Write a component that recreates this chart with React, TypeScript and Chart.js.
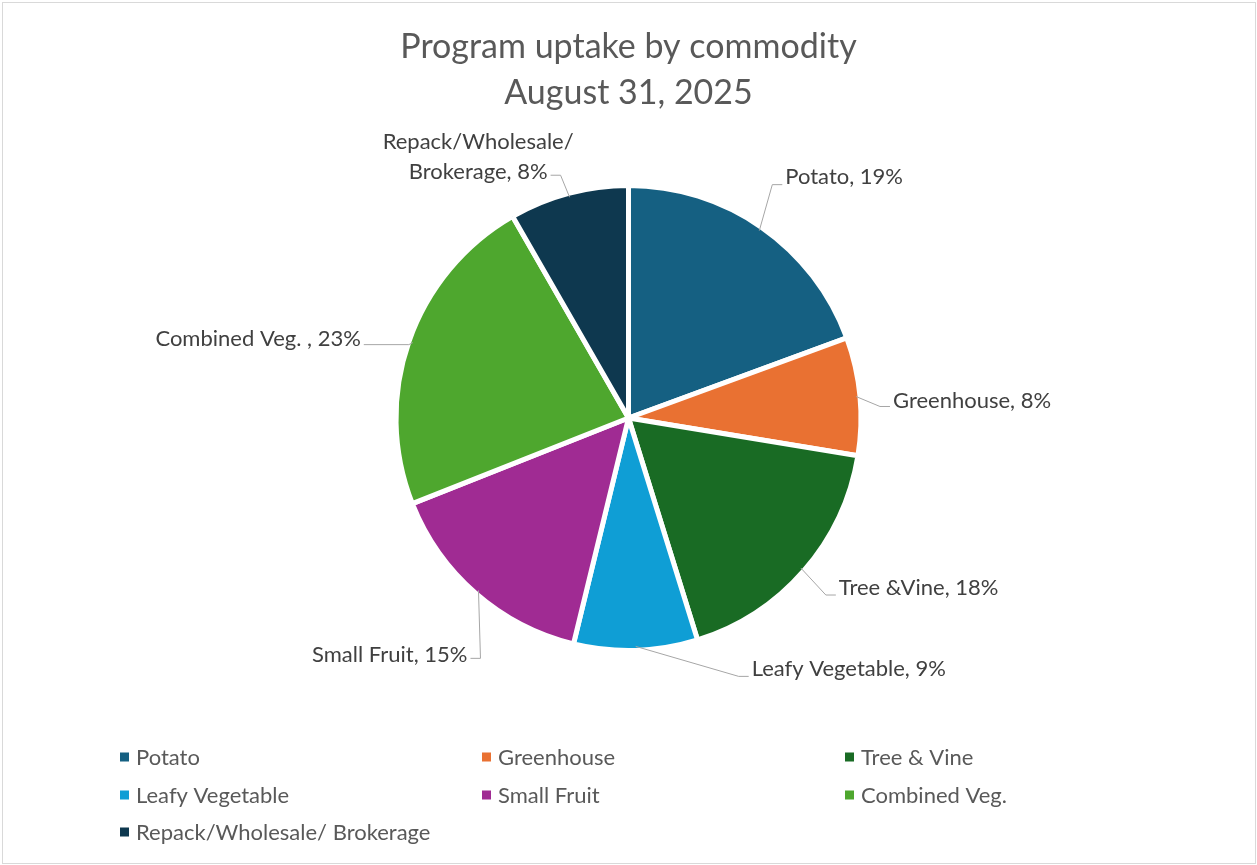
import React, { useEffect, useRef } from "react";
import { Chart, registerables } from "chart.js";

Chart.register(...registerables);

// ---- data ----
const categories = [
  "Potato",
  "Greenhouse",
  "Tree & Vine",
  "Leafy Vegetable",
  "Small Fruit",
  "Combined Veg.",
  "Repack/Wholesale/ Brokerage",
];
const sliceLabels = [
  ["Potato"],
  ["Greenhouse"],
  ["Tree &Vine"],
  ["Leafy Vegetable"],
  ["Small Fruit"],
  ["Combined Veg. "],
  ["Repack/Wholesale/", "Brokerage"],
];
const shares = [19.4, 8.2, 17.6, 8.6, 15.2, 22.7, 8.3];
const titleLines = ["Program uptake by commodity", "August 31, 2025"];

// ---- styles ----
const colors = ["#156082", "#E97132", "#196B24", "#0F9ED5", "#A02B93", "#4EA72E", "#0E384F"];
const FONT = "Lato, 'Open Sans', sans-serif";
// leader elbow offsets (px from slice edge), horizontal run, label side and vertical shift
const labelLayout = [
  { dx: 13, dy: -46, h: 10, side: "left", shift: -8 },
  { dx: 24, dy: 10, h: 10, side: "left", shift: -6 },
  { dx: 25, dy: 27, h: 10, side: "left", shift: -7 },
  { dx: 103, dy: 30, h: 10, side: "left", shift: -7 },
  { dx: 2, dy: 68, h: 10, side: "right", shift: -3 },
  { dx: -4, dy: 2, h: 45, side: "right", shift: -6 },
  { dx: -9, dy: -22, h: 10, side: "center", shift: -3 },
];
const legendCols = [120, 482, 845];
const legendRows = [757, 795, 832];

const labelPlugin = {
  id: "sliceLabels",
  afterDatasetsDraw(chart: any) {
    const ctx = chart.ctx;
    const meta = chart.getDatasetMeta(0);
    const data = chart.data.datasets[0].data as number[];
    const total = data.reduce((a, b) => a + b, 0);
    ctx.save();
    ctx.font = `22px ${FONT}`;
    ctx.textBaseline = "middle";
    meta.data.forEach((arc: any, i: number) => {
      const { x, y, startAngle, endAngle, outerRadius } = arc.getProps(
        ["x", "y", "startAngle", "endAngle", "outerRadius"],
        true
      );
      const mid = (startAngle + endAngle) / 2;
      const r = outerRadius - 4;
      const ex = x + Math.cos(mid) * r;
      const ey = y + Math.sin(mid) * r;
      const L = labelLayout[i];
      const bx = ex + L.dx;
      const by = ey + L.dy;
      const pct = Math.round((data[i] / total) * 100);
      const lines = [...sliceLabels[i]];
      lines[lines.length - 1] = lines[lines.length - 1] + ", " + pct + "%";
      ctx.strokeStyle = "#A6A6A6";
      ctx.lineWidth = 1;
      ctx.beginPath();
      ctx.moveTo(ex, ey);
      ctx.lineTo(bx, by);
      let tx: number;
      if (L.side === "left") {
        ctx.lineTo(bx + L.h, by);
        tx = bx + L.h + 3;
        ctx.textAlign = "left";
      } else if (L.side === "right") {
        ctx.lineTo(bx - L.h, by);
        tx = bx - L.h - 3;
        ctx.textAlign = "right";
      } else {
        ctx.lineTo(bx - L.h, by);
        const w = ctx.measureText(lines[lines.length - 1]).width;
        tx = bx - L.h - 3 - w / 2;
        ctx.textAlign = "center";
      }
      ctx.stroke();
      ctx.fillStyle = "#404040";
      const lh = 30;
      const n = lines.length;
      lines.forEach((s, k) => {
        ctx.fillText(s, tx, by + L.shift - (n - 1 - k) * lh);
      });
    });
    ctx.restore();
  },
};

const legendPlugin = {
  id: "gridLegend",
  afterDraw(chart: any) {
    const ctx = chart.ctx;
    const labels = chart.data.labels as string[];
    const bg = chart.data.datasets[0].backgroundColor as string[];
    ctx.save();
    ctx.font = `22px ${FONT}`;
    ctx.textBaseline = "middle";
    ctx.textAlign = "left";
    labels.forEach((lab, i) => {
      const cx = legendCols[i % 3];
      const cy = legendRows[Math.floor(i / 3)];
      ctx.fillStyle = bg[i];
      ctx.fillRect(cx, cy - 4.5, 9, 9);
      ctx.fillStyle = "#595959";
      ctx.fillText(lab, cx + 16, cy + 1);
    });
    ctx.restore();
  },
};

export default function App() {
  const ref = useRef<HTMLCanvasElement>(null);
  useEffect(() => {
    document.body.style.margin = "0";
    const chart = new Chart(ref.current!, {
      type: "pie",
      data: {
        labels: categories,
        datasets: [
          {
            data: shares,
            backgroundColor: colors,
            borderColor: "#ffffff",
            borderWidth: 5,
          },
        ],
      },
      options: {
        animation: false,
        responsive: false,
        layout: { padding: { top: 0, bottom: 212, left: 0, right: 0 } },
        plugins: {
          legend: { display: false },
          tooltip: { enabled: false },
          title: {
            display: true,
            text: titleLines,
            color: "#595959",
            font: { family: FONT, size: 34, weight: "normal", lineHeight: 1.353 },
            padding: { top: 24, bottom: 67 },
          },
        },
      },
      plugins: [labelPlugin, legendPlugin],
    });
    return () => chart.destroy();
  }, []);
  return (
    <div style={{ position: "relative", width: 1257, height: 865, background: "#fff" }}>
      <canvas ref={ref} width={1257} height={865} style={{ display: "block" }} />
      <div
        style={{
          position: "absolute",
          left: 2,
          top: 2,
          width: 1252,
          height: 860,
          border: "1px solid #D9D9D9",
          pointerEvents: "none",
        }}
      />
    </div>
  );
}
